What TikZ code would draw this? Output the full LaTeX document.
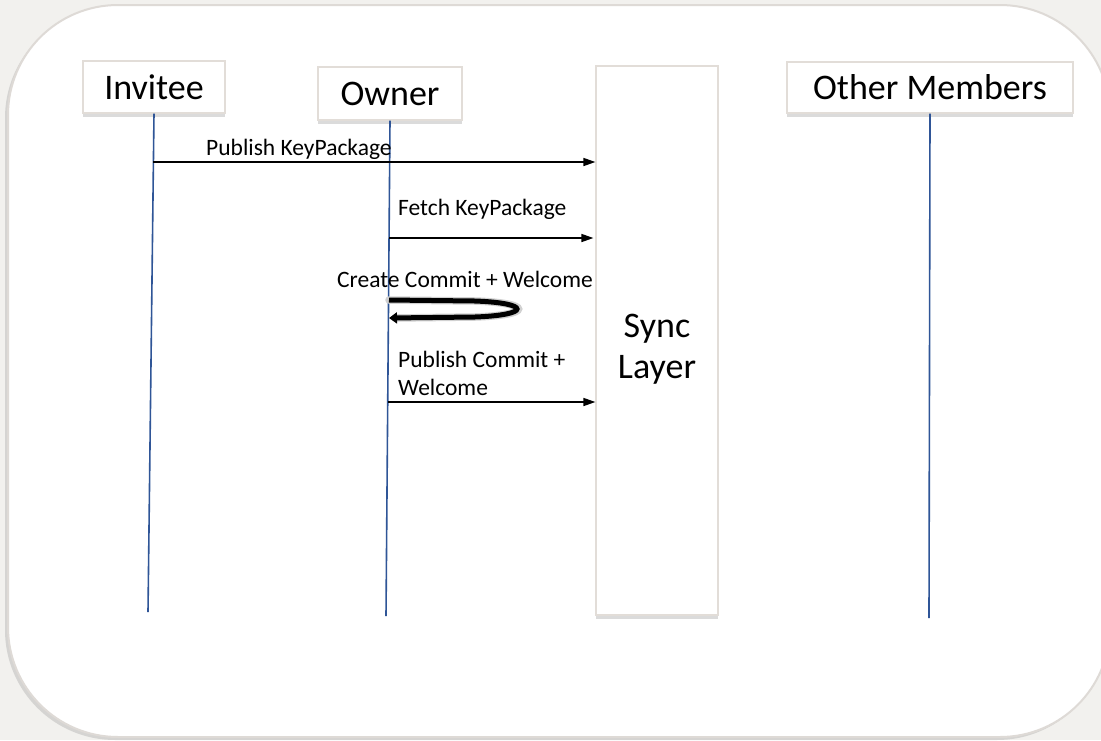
\documentclass[tikz,border=0pt]{standalone}
\usepackage{fontspec}
\setmainfont{Carlito}
\usetikzlibrary{arrows.meta,shadows,calc}

\definecolor{pagebg}{HTML}{F2F1EE}
\definecolor{frameline}{HTML}{DEDAD6}
\definecolor{boxline}{HTML}{E2DDD8}
\definecolor{lifeblue}{RGB}{47,85,151}

\tikzset{
  actor/.style={draw=boxline, line width=1.2pt, fill=white, inner sep=0pt,
    font=\fontsize{36}{40}\selectfont,
    drop shadow={opacity=0.28, shadow xshift=0pt, shadow yshift=-4pt}},
  lifeline/.style={draw=lifeblue, line width=1.6pt},
  msg/.style={draw=black, line width=1.6pt, -{Triangle[length=12pt,width=8pt]}},
  msglabel/.style={font=\fontsize{23.5}{28}\selectfont, inner sep=0pt, anchor=base west, align=left},
}

\begin{document}
\begin{tikzpicture}[x=1pt, y=-1pt]
  \useasboundingbox (0,0) rectangle (1101,740);
  \fill[pagebg] (0,0) rectangle (1101,740);

  % rounded frame with its soft shadow
  \path[fill=white, draw=frameline, line width=2pt, rounded corners=110pt,
        drop shadow={opacity=0.25, shadow xshift=-3pt, shadow yshift=-3pt}]
        (8,5) rectangle (1110,737);

  % participants
  \node[actor, minimum width=142pt, minimum height=52pt] (inv) at (154,87) {Invitee};
  \node[actor, minimum width=144pt, minimum height=53pt] (own) at (390,93.5) {Owner};
  \node[actor, minimum width=122pt, minimum height=549pt] (sync) at (657,340.5) {};
  \node[font=\fontsize{36}{41}\selectfont, align=center, inner sep=0pt] (synctext) at (657,349) {Sync\\Layer};
  \node[actor, minimum width=286pt, minimum height=51pt] (oth) at (930,87.5) {Other Members};

  % lifeline ends
  \coordinate (invEnd) at (148,612);
  \coordinate (ownEnd) at (386,616);
  \coordinate (othEnd) at (929,618);

  \draw[lifeline] (inv.south) -- (invEnd);
  \draw[lifeline] (own.south) -- (ownEnd);
  \draw[lifeline] (oth.south) -- (othEnd);

  % message anchors on the lifelines
  \coordinate (m1) at (153,162);
  \coordinate (m2) at (389,238);
  \coordinate (m3a) at (389,300);
  \coordinate (m3b) at (389,318);
  \coordinate (m4) at (388,402);

  % messages
  \draw[msg] (m1) -- (sync.west |- m1);
  \node[msglabel] (l1) at (206,155) {Publish KeyPackage};

  \draw[msg] (m2) -- ($(sync.west |- m2)+(-2,0)$);
  \node[msglabel] (l2) at (398,215) {Fetch KeyPackage};

  \node[msglabel] (l3) at (337,287) {Create Commit + Welcome};
  % self message: U-turn back onto the owner lifeline
  \draw[line width=7.5pt, draw=black!18, line cap=round]
    (m3a) -- (475,301) .. controls (533,303) and (533,315) .. (475,317) -- ($(m3b)+(6,0)$);
  \draw[line width=5pt, draw=black, -{Triangle[length=8pt,width=11pt]}]
    (m3a) -- (475,301) .. controls (531,303) and (531,315) .. (475,317) -- (m3b);

  \draw[msg] (m4) -- (sync.west |- m4);
  \node[msglabel] (l4) at (398,395) {Publish Commit +\\Welcome};
\end{tikzpicture}
\end{document}
